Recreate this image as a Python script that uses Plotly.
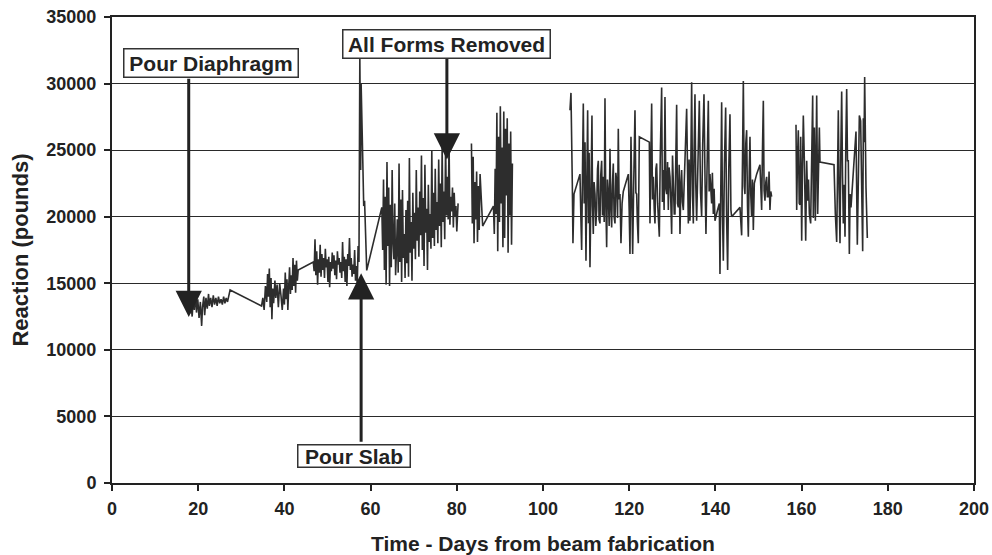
import plotly.graph_objects as go

# ---------------- data ----------------
# Segment 1: day 17 - 59 (pour diaphragm through pour slab spike)
seg1_days = [17.2, 17.5, 17.8, 18.0, 18.3, 18.6, 18.9, 19.1, 19.4, 19.6, 19.9, 20.2, 20.5, 20.8,
             21.0, 21.3, 21.5, 21.8, 22.1, 22.4, 22.6, 22.9, 23.2, 23.5, 23.8, 24.1, 24.4, 24.7,
             25.0, 25.3, 25.6, 25.9, 26.2, 26.5, 26.8, 27.1, 27.4,
             34.7, 35.0, 35.3, 35.6, 35.9, 36.1, 36.3, 36.5, 36.7, 36.9, 37.1, 37.3, 37.5, 37.8,
             38.0, 38.3, 38.6, 38.9, 39.2, 39.5, 39.8, 40.0, 40.2, 40.4, 40.6, 40.8, 41.0, 41.2,
             41.4, 41.6, 41.8, 42.0, 42.2, 42.4, 42.6, 42.8, 43.0, 43.2,
             46.7, 46.9, 47.1, 47.3, 47.5, 47.7, 47.9, 48.1, 48.3, 48.5, 48.7, 48.9, 49.1, 49.3,
             49.5, 49.7, 49.9, 50.1, 50.3, 50.5, 50.7, 50.9, 51.1, 51.3, 51.5, 51.7, 51.9, 52.1,
             52.3, 52.5, 52.7, 52.9, 53.1, 53.3, 53.5, 53.7, 53.9, 54.1, 54.3, 54.5, 54.7, 54.9,
             55.1, 55.3, 55.5, 55.7, 55.9, 56.1, 56.3, 56.5, 56.7, 56.9, 57.1, 57.3,
             57.5, 57.7, 57.8, 58.0, 58.2, 58.4, 58.6, 59.1]
seg1_vals = [13600, 12900, 13900, 12700, 13500, 12500, 14100, 13000, 14300, 12800, 13800, 12400, 13600, 11800,
             13200, 14000, 12600, 13900, 13100, 14200, 13300, 13900, 13200, 14100, 13400, 13900, 13300, 14000,
             13500, 13800, 13400, 14000, 13500, 13900, 13600, 14100, 14500,
             13300, 13900, 13000, 14800, 13600, 15700, 14000, 16100, 13200, 15400, 12300, 14600, 13500, 15200,
             13900, 14900, 13200, 15000, 14100, 13000, 14600, 13400, 15800, 13800, 15300, 13000, 14700, 16200,
             14200, 15600, 14500, 16900, 14800, 16400, 14300, 16700, 15200, 16000,
             16600, 15900, 18300, 15600, 17400, 14900, 16800, 15800, 17900, 15500, 17200, 16000, 16900, 15400,
             17600, 16200, 16800, 15100, 17000, 14700, 16600, 15900, 17300, 16100, 17100, 15600, 16700, 15300,
             17400, 16400, 16900, 15800, 16600, 15400, 18100, 15900, 17000, 15100, 16800, 14800, 17200, 16300,
             18400, 16000, 16900, 15500, 16400, 15700, 17500, 15200, 16300, 14800, 17800, 16600,
             32000, 23500, 30000, 25500, 24000, 20800, 21200, 15970]

# Segment 2: day 62.6 - 80.3 (after pour slab, forms removed)
seg2_days = [62.6, 62.8, 63.0, 63.2, 63.4, 63.6, 63.8, 64.0, 64.2, 64.4, 64.6, 64.8, 65.0, 65.2,
             65.4, 65.6, 65.8, 66.0, 66.2, 66.4, 66.6, 66.8, 67.0, 67.2, 67.4, 67.6, 67.8, 68.0,
             68.2, 68.4, 68.6, 68.8, 69.0, 69.2, 69.4, 69.6, 69.8, 70.0, 70.2, 70.4, 70.6, 70.8,
             71.0, 71.2, 71.4, 71.6, 71.8, 72.0, 72.2, 72.4, 72.6, 72.8, 73.0, 73.2, 73.4, 73.6,
             73.8, 74.0, 74.2, 74.4, 74.6, 74.8, 75.0, 75.2, 75.4, 75.6, 75.8, 76.0, 76.2, 76.4,
             76.6, 76.8, 77.0, 77.2, 77.4, 77.6, 77.8, 78.0, 78.2, 78.4, 78.6, 78.8, 79.0, 79.2,
             79.4, 79.6, 79.8, 80.0, 80.3]
seg2_vals = [20700, 17500, 22800, 16000, 21500, 14900, 24100, 17800, 22200, 14800, 20900, 16200, 23500, 18100,
             16800, 21000, 15600, 17400, 19800, 15800, 24000, 16600, 21300, 15100, 22000, 16900, 18700, 15400,
             20500, 16500, 21200, 15500, 24400, 17300, 19600, 15200, 21800, 17600, 20300, 16800, 23500, 18200,
             20700, 17000, 21900, 18600, 24600, 17500, 21400, 16300, 23900, 18800, 20600, 16000, 22400, 18100,
             20200, 17600, 25000, 18400, 21800, 17800, 23600, 19000, 21100, 18000, 24300, 19300, 22500, 17700,
             25200, 19600, 21900, 18300, 25600, 20100, 23000, 19800, 25800, 19400, 21500, 20400, 22200, 19200,
             21800, 20000, 20800, 18900, 21000]

# Segment 3: day 83.4 - 93
seg3_days = [83.4, 83.6, 83.8, 84.0, 84.2, 84.4, 84.6, 84.8, 85.0, 85.2, 85.4, 85.7, 86.0,
             88.5, 88.7, 88.9, 89.1, 89.3, 89.5, 89.7, 89.9, 90.1, 90.3, 90.5, 90.7, 90.9, 91.1,
             91.3, 91.5, 91.7, 91.9, 92.1, 92.3, 92.5, 92.7, 92.9]
seg3_vals = [25500, 19500, 24500, 18000, 22600, 19800, 23400, 18100, 22300, 19000, 23200, 20600, 19300,
             20800, 18700, 23600, 20200, 27800, 17400, 26000, 19600, 28300, 21000, 25200, 17700, 27900, 18400,
             26600, 21600, 27400, 17300, 25500, 20100, 26400, 17900, 24000]

# Segment 4: day 106 - 153
seg4_days = [106.26, 106.49, 106.80, 106.95, 107.19, 108.58, 108.80, 108.97, 109.20, 109.35, 109.55, 109.75,
             109.97, 110.15, 110.36, 110.55, 110.70, 110.90, 111.10, 111.36, 111.50, 111.67, 111.85, 112.06,
             112.25, 112.45, 112.65, 112.83, 113.00, 113.22, 113.40, 113.61, 113.80, 113.99, 114.20, 114.38,
             114.55, 114.77, 114.95, 115.15, 115.35, 115.54, 115.75, 115.93, 116.10, 116.31, 116.50, 116.70,
             116.90, 117.09, 117.30, 117.47, 117.65, 117.86, 118.09, 118.35, 118.63, 119.80, 120.00, 120.18,
             120.41, 120.60, 120.80, 121.05, 121.34, 121.55, 121.73, 121.90, 122.11, 122.35, 124.67, 124.82,
             125.00, 125.21, 125.40, 125.60, 125.80, 125.98, 126.20, 126.37, 126.60, 126.99, 127.20, 127.53,
             127.70, 127.92, 128.10, 128.30, 128.50, 128.69, 128.90, 129.08, 129.25, 129.46, 129.65, 129.85,
             130.05, 130.24, 130.45, 130.62, 130.80, 131.01, 131.20, 131.40, 131.60, 131.78, 132.00, 132.17,
             132.35, 132.56, 133.33, 133.50, 133.72, 133.90, 134.10, 134.30, 134.49, 134.70, 134.88, 135.05,
             135.26, 135.45, 135.65, 135.95, 136.27, 136.55, 136.81, 137.05, 137.35, 137.60, 137.81, 138.05,
             138.36, 138.55, 138.74, 138.95, 139.13, 139.30, 139.52, 139.70, 139.90, 140.50, 140.91, 141.06,
             141.25, 141.45, 141.65, 141.84, 142.10, 142.38, 142.60, 142.84, 143.10, 143.38, 143.60, 143.77,
             145.70, 145.90, 146.09, 146.30, 146.48, 146.70, 146.86, 147.05, 147.25, 147.45, 147.64, 147.85,
             148.02, 148.20, 148.41, 148.60, 148.80, 149.03, 149.57, 150.34, 150.55, 150.73, 150.90, 151.12,
             151.30, 151.50, 151.70, 151.89, 152.05, 152.28, 152.45, 152.66, 152.85, 153.05]
seg4_vals = [28000, 29300, 22500, 18000, 21700, 23200, 19800, 17500, 24500, 28500, 21000, 25600,
             16700, 23800, 28000, 19500, 24800, 16200, 22400, 27600, 20800, 18700, 22600, 21700,
             19300, 20500, 23600, 24200, 19800, 19500, 23100, 24200, 20100, 23000, 19600, 28900,
             21500, 17700, 22800, 21700, 19300, 25100, 20600, 19200, 22300, 24000, 20000, 19500,
             23300, 22700, 19900, 26600, 21300, 21700, 18000, 21000, 21900, 23200, 20400, 17200,
             26000, 20300, 17200, 22600, 28000, 21800, 21700, 19600, 18000, 26000, 25600, 19500,
             23700, 28500, 21300, 23000, 20600, 19500, 23600, 24000, 21000, 18500, 24400, 29700,
             21100, 23500, 20500, 29000, 22100, 21700, 24100, 20500, 23700, 23000, 21200, 18700,
             24600, 22200, 20200, 20200, 25300, 28400, 21000, 20700, 23900, 18700, 22500, 23500,
             21100, 20500, 28100, 22000, 19500, 24300, 19700, 23800, 30100, 21600, 19500, 24900,
             29200, 22400, 19700, 24000, 28700, 21800, 20000, 25400, 29200, 22600, 18700, 23400,
             28700, 21900, 23200, 22000, 21000, 23300, 20200, 22100, 19700, 20500, 21000, 15700,
             22700, 28600, 20100, 16700, 24000, 28200, 19900, 16000, 23500, 27700, 20500, 20000,
             20700, 19800, 18600, 24600, 30200, 22300, 21700, 25500, 26500, 20800, 18500, 23300,
             26000, 21700, 20000, 22800, 19000, 22500, 23200, 23900, 21700, 20500, 24600, 28700,
             22000, 21200, 22600, 23000, 21500, 21500, 23400, 20500, 21900, 21500]

# Segment 5: day 158.7 - 175
seg5_days = [158.70, 158.86, 159.05, 159.24, 159.45, 159.63, 159.79, 160.02, 160.20, 160.40, 160.64, 160.80,
             160.95, 161.18, 161.41, 161.60, 161.80, 162.10, 162.34, 162.57, 162.72, 162.96, 163.19, 163.35,
             163.50, 163.73, 163.95, 164.12, 164.27, 167.52, 167.83, 168.14, 168.35, 168.52, 168.70, 168.91,
             169.10, 169.30, 169.50, 169.68, 169.90, 170.07, 170.25, 170.46, 170.65, 170.84, 171.08, 171.25,
             171.46, 171.75, 172.00, 172.30, 172.62, 172.93, 173.15, 173.40, 173.70, 173.94, 174.17, 174.33,
             174.50, 174.63, 174.80, 174.94, 175.25]
seg5_vals = [26900, 20500, 24500, 26500, 21000, 20900, 26000, 18200, 23500, 27600, 24200, 20500,
             18200, 24200, 21200, 22800, 20200, 19500, 26700, 29100, 19900, 26700, 19700, 24000,
             29100, 20200, 23800, 26700, 24100, 23900, 20200, 18100, 23500, 28000, 22000, 18000,
             24800, 29400, 23000, 19500, 22400, 18500, 25300, 29600, 24200, 24200, 17200, 21700,
             20700, 22200, 23500, 24800, 26400, 17900, 23300, 27600, 27200, 21700, 17400, 27400,
             25600, 30500, 23000, 22200, 18400]

# Event annotations: label, label position (day, lbs), arrow day, arrow start, arrow tip
events = ["Pour Diaphragm", "All Forms Removed", "Pour Slab"]
event_label_x = [22.97, 77.6, 56.1]
event_label_y = [31560, 32950, 2060]
event_box_w = [176, 209, 114]
event_box_h = [30, 30, 24]
event_arrow_x = [17.8, 77.7, 57.8]
event_arrow_from = [30470, 32800, 2980]
event_arrow_to = [12470, 24300, 15750]

x_ticks = [0, 20, 40, 60, 80, 100, 120, 140, 160, 180, 200]
y_ticks = [0, 5000, 10000, 15000, 20000, 25000, 30000, 35000]

# ---------------- build ----------------
segments = [(seg1_days, seg1_vals), (seg2_days, seg2_vals), (seg3_days, seg3_vals),
            (seg4_days, seg4_vals), (seg5_days, seg5_vals)]
xs, ys = [], []
for i, (d, v) in enumerate(segments):
    if i >= 2:
        # real gaps in the record (segment 2 is joined to the spike trough)
        xs.append(None)
        ys.append(None)
    xs.extend(d)
    ys.extend(v)

FONT = "Liberation Sans, Arial, Helvetica, sans-serif"
INK = "#222222"

fig = go.Figure()
fig.add_trace(go.Scatter(x=xs, y=ys, mode="lines", connectgaps=False,
                         line=dict(color="#2d2d2d", width=1.6), hoverinfo="skip",
                         showlegend=False))

for i, label in enumerate(events):
    fig.add_annotation(x=event_arrow_x[i], y=event_arrow_to[i], xref="x", yref="y",
                       ax=event_arrow_x[i], ay=event_arrow_from[i], axref="x", ayref="y",
                       text="", showarrow=True, arrowhead=2, arrowsize=1.75,
                       arrowwidth=3, arrowcolor=INK, standoff=0, startstandoff=0)
for i, label in enumerate(events):
    fig.add_annotation(x=event_label_x[i], y=event_label_y[i], xref="x", yref="y",
                       text=label, showarrow=False,
                       font=dict(family=FONT, size=21, color=INK, weight="bold"),
                       bgcolor="white", bordercolor="#333333", borderwidth=1.5, borderpad=0,
                       width=event_box_w[i] - 3, height=event_box_h[i] - 3,
                       xanchor="center", yanchor="middle")

axis_common = dict(showline=True, linecolor=INK, linewidth=2, mirror=True,
                   ticks="outside", ticklen=6, tickwidth=1.5, tickcolor=INK,
                   tickfont=dict(family=FONT, size=18, color=INK, weight="bold"),
                   zeroline=False, automargin=False)

fig.update_layout(
    width=992, height=555, autosize=False,
    margin=dict(l=112, r=18, t=17, b=72),
    paper_bgcolor="white", plot_bgcolor="white",
    xaxis=dict(range=[0, 200], tickvals=x_ticks, showgrid=False, ticklabelstandoff=2,
               title=dict(text="Time - Days from beam fabrication",
                          font=dict(family=FONT, size=21, color=INK, weight="bold"),
                          standoff=20),
               **axis_common),
    yaxis=dict(range=[0, 35000], tickvals=y_ticks, tickformat="d", showgrid=True,
               gridcolor="#2a2a2a", gridwidth=1, ticklabelstandoff=4,
               title=dict(text="Reaction (pounds)",
                          font=dict(family=FONT, size=22, color=INK, weight="bold"),
                          standoff=12),
               **axis_common),
)

fig.write_html("out.html")
